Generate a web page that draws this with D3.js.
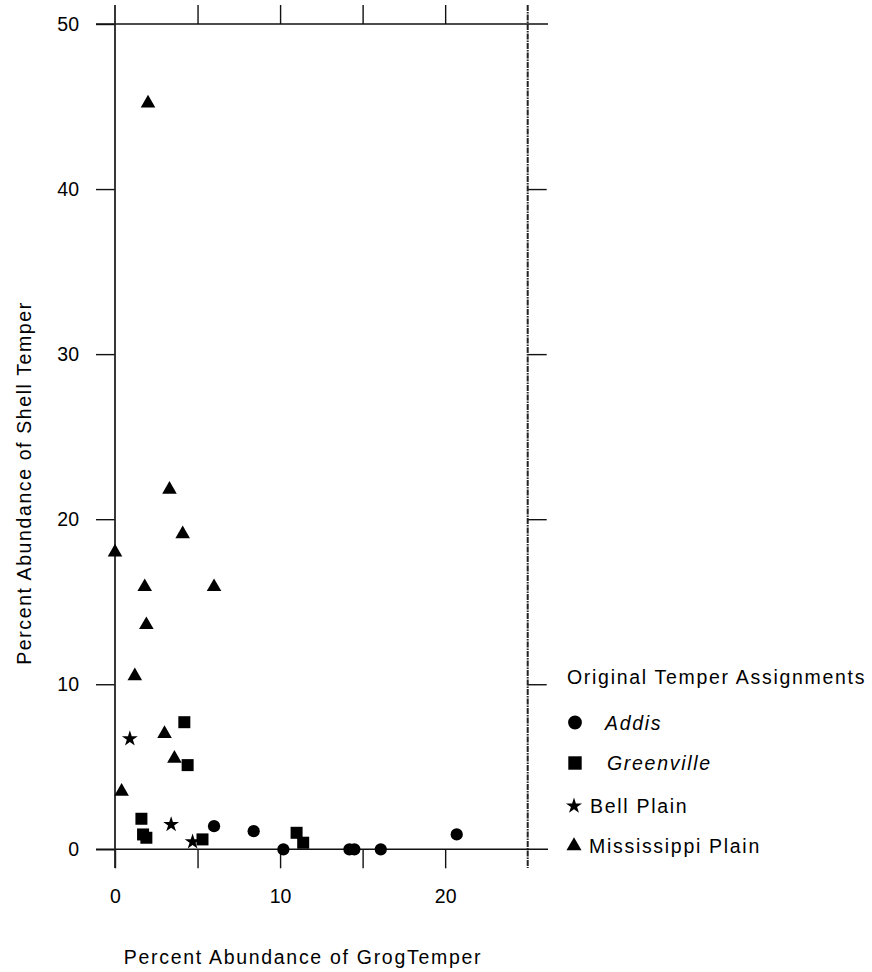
<!DOCTYPE html>
<html>
<head>
<meta charset="utf-8">
<script src="https://cdn.jsdelivr.net/npm/d3@7"></script>
<style>
  body { margin: 0; background: #fff; }
  svg text { font-family: "Liberation Sans", Arial, sans-serif; fill: #000; }
</style>
</head>
<body>
<div id="chart"></div>
<script>
// percent grog temper (x) and percent shell temper (y)
var addisX = [6.0, 8.4, 10.2, 14.2, 14.5, 16.1, 20.7];
var addisY = [1.4, 1.1, 0.0, 0.0, 0.0, 0.0, 0.9];
var greenvilleX = [4.2, 4.4, 1.6, 1.7, 1.9, 5.3, 11.0, 11.4];
var greenvilleY = [7.7, 5.1, 1.85, 0.9, 0.7, 0.6, 1.0, 0.4];
var bellX = [0.9, 3.4, 4.7];
var bellY = [6.7, 1.5, 0.45];
var missX = [2.0, 3.3, 4.1, 0.0, 1.8, 6.0, 1.9, 1.2, 3.0, 3.6, 0.4];
var missY = [45.2, 21.8, 19.1, 18.0, 15.9, 15.9, 13.6, 10.5, 7.0, 5.5, 3.5];

var xTicks = [0, 5, 10, 15, 20];
var xLabels = [0, 10, 20];
var yTicks = [0, 10, 20, 30, 40, 50];

var seriesNames = ["Addis", "Greenville", "Bell Plain", "Mississippi Plain"];
var seriesItalic = [true, true, false, false];

var svgWidth = 872, svgHeight = 972;
var plotLeft = 115, plotRight = 527.7, plotTop = 24, plotBottom = 849.3;

var x = d3.scaleLinear().domain([0, 25]).range([plotLeft, plotRight]);
var y = d3.scaleLinear().domain([0, 50]).range([plotBottom, plotTop]);

var svg = d3.select("#chart").append("svg")
    .attr("width", svgWidth)
    .attr("height", svgHeight);

function cleanAxis(g) {
    g.select(".domain").remove();
    g.selectAll(".tick line").attr("stroke", "#111").attr("stroke-width", 1.4);
}

// bottom ticks + labels
svg.append("g")
    .attr("transform", "translate(0," + plotBottom + ")")
    .call(d3.axisBottom(x).tickValues(xTicks).tickSize(19).tickPadding(21)
        .tickFormat(function(d) { return xLabels.indexOf(d) >= 0 ? d : ""; }))
    .call(cleanAxis)
    .selectAll("text").attr("font-size", "19.5px").attr("font-family", null);

// top ticks
svg.append("g")
    .attr("transform", "translate(0," + plotTop + ")")
    .call(d3.axisTop(x).tickValues(xTicks.slice(1)).tickSize(19).tickFormat(""))
    .call(cleanAxis);

// left ticks + labels
svg.append("g")
    .attr("transform", "translate(" + plotLeft + ",0)")
    .call(d3.axisLeft(y).tickValues(yTicks).tickSize(19).tickPadding(17))
    .call(cleanAxis)
    .selectAll("text").attr("font-size", "19.5px").attr("font-family", null);

// right ticks
svg.append("g")
    .attr("transform", "translate(" + plotRight + ",0)")
    .call(d3.axisRight(y).tickValues(yTicks.slice(1, -1)).tickSize(19).tickFormat(""))
    .call(cleanAxis);

// frame lines
svg.append("line").attr("x1", 96).attr("x2", 548).attr("y1", plotTop).attr("y2", plotTop)
    .attr("stroke", "#111").attr("stroke-width", 1.4);
svg.append("line").attr("x1", 96).attr("x2", 548).attr("y1", plotBottom).attr("y2", plotBottom)
    .attr("stroke", "#111").attr("stroke-width", 1.4);
svg.append("line").attr("x1", plotLeft).attr("x2", plotLeft).attr("y1", 5).attr("y2", 868)
    .attr("stroke", "#222").attr("stroke-width", 1.8);
svg.append("line").attr("x1", plotRight).attr("x2", plotRight).attr("y1", 5).attr("y2", 868)
    .attr("stroke", "#222").attr("stroke-width", 2)
    .attr("stroke-dasharray", "6,1,1.5,1");

// axis titles
svg.append("text")
    .attr("x", 303).attr("y", 964)
    .attr("text-anchor", "middle")
    .attr("font-size", "19.5px")
    .attr("letter-spacing", "1.7px")
    .text("Percent Abundance of GrogTemper");

svg.append("text")
    .attr("transform", "translate(31,483) rotate(-90)")
    .attr("text-anchor", "middle")
    .attr("font-size", "19.5px")
    .attr("letter-spacing", "1.6px")
    .text("Percent Abundance of Shell Temper");

// points
var symbols = [d3.symbolCircle, d3.symbolSquare, d3.symbolStar, d3.symbolTriangle];
var sizes = [118, 144, 78, 92];
var xs = [addisX, greenvilleX, bellX, missX];
var ys = [addisY, greenvilleY, bellY, missY];

xs.forEach(function(arr, s) {
    var pts = arr.map(function(v, i) { return [v, ys[s][i]]; });
    svg.append("g").selectAll("path")
        .data(pts)
        .enter()
        .append("path")
        .attr("transform", function(d) { return "translate(" + x(d[0]) + "," + y(d[1]) + ")"; })
        .attr("d", d3.symbol().type(symbols[s]).size(sizes[s]))
        .attr("fill", "#000");
});

// legend
svg.append("text")
    .attr("x", 567).attr("y", 684)
    .attr("font-size", "19.5px")
    .attr("letter-spacing", "1.7px")
    .text("Original Temper Assignments");

var legendY = [722.5, 763, 806, 846];
var legendSizes = [150, 180, 80, 98];
var legendTextX = [605, 607, 590, 589];
seriesNames.forEach(function(name, i) {
    svg.append("path")
        .attr("transform", "translate(" + (i < 2 ? 575 : 574) + "," + legendY[i] + ")")
        .attr("d", d3.symbol().type(symbols[i]).size(legendSizes[i]))
        .attr("fill", "#000");
    svg.append("text")
        .attr("x", legendTextX[i]).attr("y", legendY[i] + 7)
        .attr("font-size", "19.5px")
        .attr("letter-spacing", "1.7px")
        .attr("font-style", seriesItalic[i] ? "italic" : "normal")
        .text(name);
});
</script>
</body>
</html>
